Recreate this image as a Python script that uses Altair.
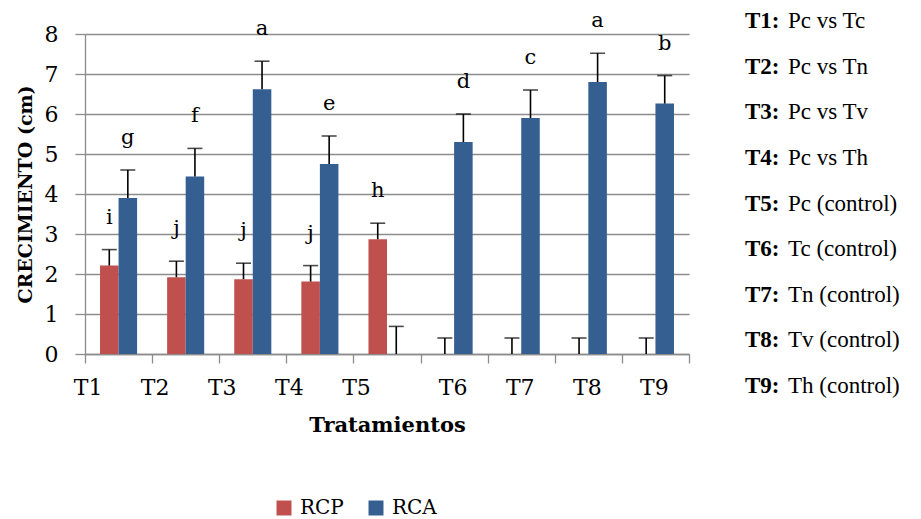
import altair as alt
import pandas as pd

# ---------------- data ----------------
categories = ["T1", "T2", "T3", "T4", "T5", "T6", "T7", "T8", "T9"]
series_names = ["RCP", "RCA"]
series_colors = ["#C0504D", "#365F91"]

rcp_values = [2.21, 1.92, 1.87, 1.81, 2.87, 0.0, 0.0, 0.0, 0.0]
rcp_errors = [0.40, 0.40, 0.40, 0.40, 0.40, 0.40, 0.40, 0.40, 0.40]
rcp_letters = ["i", "j", "j", "j", "h", "", "", "", ""]

rca_values = [3.90, 4.44, 6.62, 4.75, 0.0, 5.30, 5.90, 6.80, 6.26]
rca_errors = [0.70, 0.70, 0.70, 0.70, 0.69, 0.70, 0.70, 0.72, 0.70]
rca_letters = ["g", "f", "a", "e", "", "d", "c", "a", "b"]

y_ticks = [0, 1, 2, 3, 4, 5, 6, 7, 8]

def_keys = ["T1:", "T2:", "T3:", "T4:", "T5:", "T6:", "T7:", "T8:", "T9:"]
def_texts = ["Pc vs Tc", "Pc vs Tn", "Pc vs Tv", "Pc vs Th", "Pc (control)",
             "Tc (control)", "Tn (control)", "Tv (control)", "Th (control)"]

# ---------------- tables ----------------
rows = []
for i, c in enumerate(categories):
    for s, vals, errs, lets in (("RCP", rcp_values, rcp_errors, rcp_letters),
                                ("RCA", rca_values, rca_errors, rca_letters)):
        rows.append({"cat": c, "series": s, "value": vals[i],
                     "top": vals[i] + errs[i], "letter": lets[i]})
df = pd.DataFrame(rows)
def_df = pd.DataFrame({"key": def_keys, "text": def_texts})

GRAY = "#8c8c8c"
SERIF = "DejaVu Serif"

x_enc = alt.X(
    "cat:N", sort=categories,
    scale=alt.Scale(domain=categories, paddingInner=0, paddingOuter=0),
    axis=alt.Axis(title="Tratamientos", labels=False, tickBand="extent",
                  tickSize=9, tickColor=GRAY, tickWidth=1.3,
                  domainColor=GRAY, domainWidth=1.3, grid=False,
                  titleFont=SERIF, titleFontSize=21, titleFontWeight="bold",
                  titleColor="black", titlePadding=51),
)
xoff = alt.XOffset("series:N", sort=series_names,
                   scale=alt.Scale(domain=series_names, paddingInner=0, paddingOuter=0.81))
y_axis = alt.Axis(values=y_ticks, title="CRECIMIENTO (cm)", grid=True,
                  gridColor=GRAY, gridWidth=1.3, domainColor=GRAY, domainWidth=1.3,
                  tickColor=GRAY, tickWidth=1.3, tickSize=10,
                  labelFont=SERIF, labelFontSize=22, labelColor="black", labelPadding=17,
                  titleFont=SERIF, titleFontSize=19, titleFontWeight="bold",
                  titleColor="black", titlePadding=9)
y_scale = alt.Scale(domain=[0, 8], nice=False)

bars = alt.Chart(df).mark_bar().encode(
    x=x_enc, xOffset=xoff,
    y=alt.Y("value:Q", scale=y_scale, axis=y_axis),
    color=alt.Color("series:N", sort=series_names,
                    scale=alt.Scale(domain=series_names, range=series_colors),
                    legend=alt.Legend(title=None, orient="none", direction="horizontal",
                                      legendX=189, legendY=464, symbolType="square",
                                      symbolSize=225, symbolStrokeWidth=0,
                                      labelFont=SERIF, labelFontSize=20, labelColor="black",
                                      labelOffset=6, columnPadding=22, padding=0)),
)

err = alt.Chart(df).mark_rule(color="black", strokeWidth=1.6).encode(
    x=x_enc, xOffset=xoff,
    y=alt.Y("value:Q", scale=y_scale, axis=y_axis), y2="top:Q",
)

caps = alt.Chart(df).mark_tick(color="black", orient="horizontal", size=15, thickness=1.6).encode(
    x=x_enc, xOffset=xoff,
    y=alt.Y("top:Q", scale=y_scale, axis=y_axis),
)

letters = alt.Chart(df).transform_filter("datum.letter != ''").mark_text(
    font=SERIF, fontSize=21, color="black", baseline="alphabetic", dy=-26
).encode(
    x=x_enc, xOffset=xoff,
    y=alt.Y("top:Q", scale=y_scale, axis=y_axis),
    text="letter:N",
)

xlab_a = alt.Chart(pd.DataFrame({"cat": categories[:5]})).mark_text(
    font=SERIF, fontSize=22, color="black", baseline="middle", dx=-30.5
).encode(x=x_enc, y=alt.value(354), text="cat:N")

xlab_b = alt.Chart(pd.DataFrame({"cat": categories[5:]})).mark_text(
    font=SERIF, fontSize=22, color="black", baseline="middle", dx=-1
).encode(x=x_enc, y=alt.value(354), text="cat:N")

main = alt.layer(bars, err, caps, letters, xlab_a, xlab_b)

def_y = alt.Y("key:N", sort=def_keys,
              scale=alt.Scale(type="point", domain=def_keys, range=[-13, 352], padding=0),
              axis=None)

defs_bold = alt.Chart(def_df).mark_text(
    font="Liberation Serif", fontSize=23, fontWeight="bold", color="black",
    align="left", baseline="middle"
).encode(x=alt.value(660), y=def_y, text="key:N")

defs_reg = alt.Chart(def_df).mark_text(
    font="Liberation Serif", fontSize=23, color="black",
    align="left", baseline="middle"
).encode(x=alt.value(703), y=def_y, text="text:N")

chart = alt.layer(main, defs_bold, defs_reg).resolve_scale(
    y="independent"
).properties(
    width=604, height=320,
    padding={"left": 77, "top": 26, "right": 216, "bottom": 165},
    autosize=alt.AutoSizeParams(type="none"),
).configure_view(strokeWidth=0)

chart.save("out.html", embed_options={"renderer": "svg", "actions": False})
